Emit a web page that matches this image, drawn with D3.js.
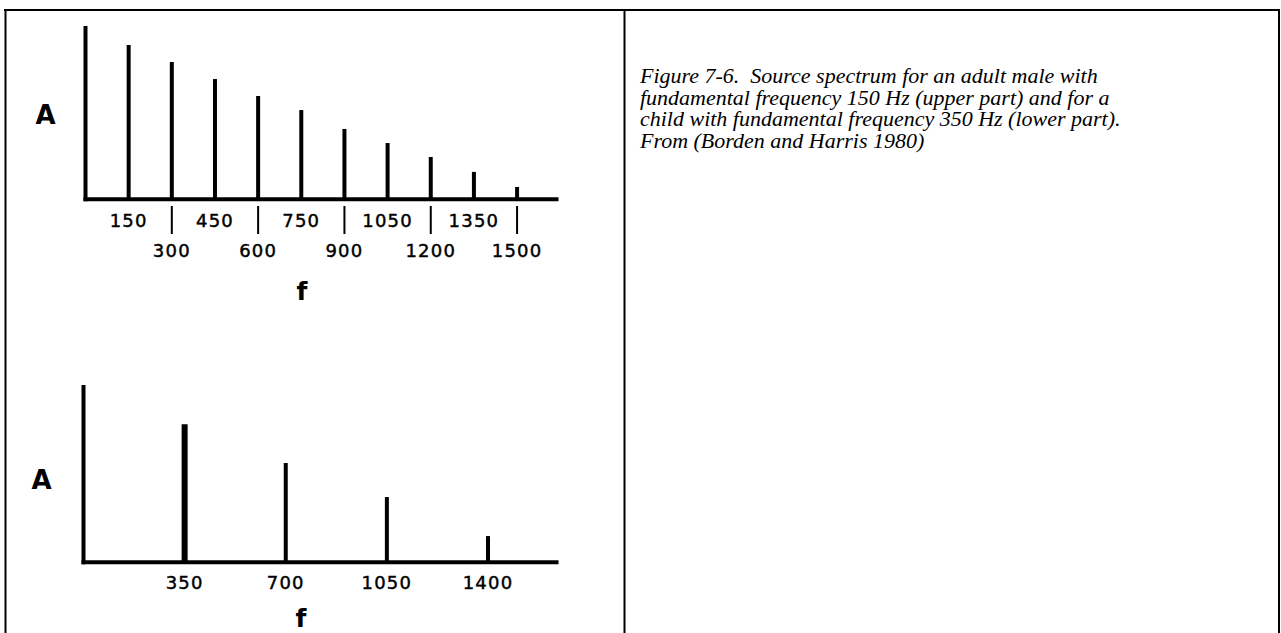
<!DOCTYPE html>
<html>
<head>
<meta charset="utf-8">
<script src="https://cdn.jsdelivr.net/npm/d3@7"></script>
<style>
  html, body { margin: 0; padding: 0; background: #fff; }
  svg { display: block; }
</style>
</head>
<body>
<script>
// Harmonic spectrum of an adult male voice (F0 = 150 Hz)
const maleFreqs = [150, 300, 450, 600, 750, 900, 1050, 1200, 1350, 1500];
const maleAmps  = [89.0, 79.2, 69.4, 59.6, 51.5, 40.6, 32.5, 24.4, 15.8, 7.1];
const maleLabelsUpperRow = [150, 450, 750, 1050, 1350];
const maleLabelsLowerRow = [300, 600, 900, 1200, 1500];

// Harmonic spectrum of a child's voice (F0 = 350 Hz)
const childFreqs = [350, 700, 1050, 1400];
const childAmps  = [77.8, 56.0, 36.8, 14.8];
const childLabels = [350, 700, 1050, 1400];

const captionLines = [
  "Figure 7-6.  Source spectrum for an adult male with",
  "fundamental frequency 150 Hz (upper part) and for a",
  "child with fundamental frequency 350 Hz (lower part).",
  "From (Borden and Harris 1980)"
];

const W = 1281, H = 633;
const svg = d3.select("body").append("svg").attr("width", W).attr("height", H);
svg.append("rect").attr("width", W).attr("height", H).attr("fill", "#fff");

// Table frame: outer border and the column divider
const frame = svg.append("g").attr("stroke", "#000").attr("stroke-width", 2).attr("fill", "none");
frame.append("line").attr("x1", 4).attr("x2", 1280).attr("y1", 10).attr("y2", 10);
frame.append("line").attr("x1", 5.5).attr("x2", 5.5).attr("y1", 9).attr("y2", H);
frame.append("line").attr("x1", 624.5).attr("x2", 624.5).attr("y1", 9).attr("y2", H);
frame.append("line").attr("x1", 1279).attr("x2", 1279).attr("y1", 9).attr("y2", H);

const FMAX = 1644;
const labelFont = "'DejaVu Sans', sans-serif";

function spectrum(g, opts) {
  const x = d3.scaleLinear().domain([0, FMAX]).range([opts.x0, opts.x1]);
  const y = d3.scaleLinear().domain([0, 100]).range([opts.base, opts.top]);

  // axes
  g.append("line")
    .attr("x1", x(0)).attr("x2", x(0))
    .attr("y1", y(100)).attr("y2", y(0) + 2)
    .attr("stroke", "#000").attr("stroke-width", 4);
  g.append("line")
    .attr("x1", x(0) - 2).attr("x2", x(FMAX))
    .attr("y1", y(0)).attr("y2", y(0))
    .attr("stroke", "#000").attr("stroke-width", 4);

  // harmonics
  g.selectAll("line.harm")
    .data(opts.freqs.map((f, i) => ({ f, a: opts.amps[i] })))
    .join("line")
    .attr("class", "harm")
    .attr("x1", d => x(d.f)).attr("x2", d => x(d.f))
    .attr("y1", y(0)).attr("y2", d => y(d.a))
    .attr("stroke", "#000")
    .attr("stroke-width", (d, i) => (opts.wide && i === 0) ? 6 : 4);

  // "A" axis label
  g.append("text")
    .attr("x", opts.aX).attr("y", opts.aY)
    .attr("text-anchor", "middle")
    .attr("font-family", labelFont).attr("font-weight", "bold")
    .attr("font-size", 26).text("A");

  // "f" axis label
  g.append("text")
    .attr("x", opts.fX).attr("y", opts.fY)
    .attr("text-anchor", "middle")
    .attr("font-family", labelFont).attr("font-weight", "bold")
    .attr("font-size", 25).text("f");

  return x;
}

function tickLabels(g, x, values, yPos) {
  g.selectAll(null)
    .data(values)
    .join("text")
    .attr("x", d => x(d)).attr("y", yPos)
    .attr("text-anchor", "middle")
    .attr("font-family", labelFont)
    .attr("font-size", 18)
    .attr("letter-spacing", 1.2)
    .attr("stroke", "#000").attr("stroke-width", 0.45)
    .text(d => d);
}

// Upper panel
const gUp = svg.append("g");
const xUp = spectrum(gUp, {
  x0: 85.5, x1: 558.5, base: 199.3, top: 26,
  freqs: maleFreqs, amps: maleAmps,
  aX: 45.5, aY: 123.5, fX: 302, fY: 300
});
tickLabels(gUp, xUp, maleLabelsUpperRow, 226.5);
tickLabels(gUp, xUp, maleLabelsLowerRow, 256.5);
// separators between the upper-row labels
gUp.selectAll("line.sep")
  .data(maleLabelsLowerRow)
  .join("line")
  .attr("class", "sep")
  .attr("x1", d => xUp(d)).attr("x2", d => xUp(d))
  .attr("y1", 206).attr("y2", 234)
  .attr("stroke", "#000").attr("stroke-width", 2);

// Lower panel
const gLo = svg.append("g");
const xLo = spectrum(gLo, {
  x0: 83.5, x1: 558.5, base: 562.3, top: 385,
  freqs: childFreqs, amps: childAmps, wide: true,
  aX: 41.5, aY: 488.5, fX: 301, fY: 627
});
tickLabels(gLo, xLo, childLabels, 589);

// Caption (slightly widened serif italic)
const cap = svg.append("text")
  .attr("transform", "translate(640,0) scale(1.1,1)")
  .attr("font-family", "'Liberation Serif', 'Times New Roman', serif")
  .attr("font-style", "italic")
  .attr("font-size", 20)
  .attr("fill", "#000")
  .style("white-space", "pre");
cap.selectAll("tspan")
  .data(captionLines)
  .join("tspan")
  .attr("x", 0)
  .attr("y", (d, i) => 83 + i * 21.7)
  .text(d => d);
</script>
</body>
</html>
